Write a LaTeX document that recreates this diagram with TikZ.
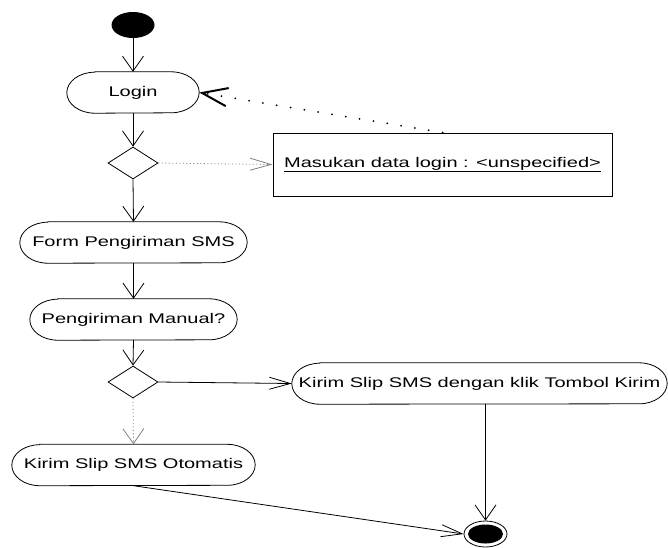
\documentclass[tikz,border=0pt]{standalone}
\usepackage{fontspec}
\setmainfont{Liberation Sans}[FakeStretch=1.43]
\usetikzlibrary{arrows.meta,shapes.geometric}

\tikzset{
  x=1pt, y=1pt,
  flow/.style={draw=black, line width=0.8pt},
  vtip/.style={-{Straight Barb[length=15pt,width=21pt]}},
  htip/.style={-{Straight Barb[length=21pt,width=12pt]}},
  act/.style={inner sep=0pt, minimum height=41pt, font=\fontsize{14}{16}\selectfont},
  stadium/.style={draw=black, line width=0.8pt},
  branch/.style={diamond, draw=black, line width=0.8pt, aspect=1.56,
    minimum width=50pt, minimum height=32pt, inner sep=0pt},
  finedots/.style={draw=gray, line width=0.8pt, dash pattern=on 1pt off 2.5pt},
  heavydots/.style={draw=black, line width=2pt, line cap=round,
    dash pattern=on 0pt off 14pt,
    -{Straight Barb[length=25pt,width=18pt,line cap=round]}},
  note/.style={draw=black, line width=1pt, inner sep=0pt,
    minimum width=339pt, minimum height=63pt, font=\fontsize{14}{16}\selectfont},
}

% action outline: straight top and bottom with elliptical ends
\newcommand\actionoutline[1]{%
  \draw[stadium] ([xshift=28pt]#1.north west) -- ([xshift=-28pt]#1.north east)
    arc[start angle=90,end angle=-90,x radius=28pt,y radius=20.5pt]
    -- ([xshift=28pt]#1.south west)
    arc[start angle=270,end angle=90,x radius=28pt,y radius=20.5pt] -- cycle;}

\begin{document}
\begin{tikzpicture}
\useasboundingbox (0,0) rectangle (668,-547);

% initial and final states
\node[ellipse, fill=black, minimum width=43pt, minimum height=26pt, inner sep=0pt]
  (start) at (133,-25) {};
\node[ellipse, draw=black, line width=0.8pt, fill=white, minimum width=43pt,
  minimum height=26pt, inner sep=0pt] (end) at (485.5,-534) {};
\node[ellipse, fill=black, minimum width=35pt, minimum height=19pt, inner sep=0pt]
  (endcore) at (end.center) {};

% actions
\node[act, minimum width=132pt] (login) at (133,-92.5) {Login};
\node[act, minimum width=227pt] (form) at (133.5,-242.5) {Form Pengiriman SMS};
\node[act, minimum width=207pt] (manual) at (133.5,-319.5) {Pengiriman Manual?};
\node[act, minimum width=375pt] (kirim) at (479.5,-383.5) {Kirim Slip SMS dengan klik Tombol Kirim};
\node[act, minimum width=243pt] (oto) at (133.5,-465) {Kirim Slip SMS Otomatis};
\foreach \n in {login,form,manual,kirim,oto} {\actionoutline{\n}}

% decisions
\node[branch] (d1) at (133,-163) {};
\node[branch] (d2) at (133,-382) {};

% object note
\node[note] (box) at (442.5,-164.5) {\underline{Masukan data login : <unspecified>}};

% transitions
\draw[flow,vtip] (start) -- (login.north);
\draw[flow,vtip] (login.south) -- (d1.north);
\draw[finedots,htip] (d1.east) -- (box.west);
\draw[heavydots] (box.north) -- (login.east);
\draw[flow,vtip] (d1.south) -- (form.north);
\draw[flow,vtip] (form.south) -- (manual.north);
\draw[flow,vtip] (manual.south) -- (d2.north);
\draw[flow,htip] (d2.east) -- (kirim.west);
\draw[finedots,vtip] (d2.south) -- (oto.north);
\draw[flow,vtip] (end.north |- kirim.south) -- (end.north);
\draw[flow,htip] (oto.south) -- (end.west);
\end{tikzpicture}
\end{document}
